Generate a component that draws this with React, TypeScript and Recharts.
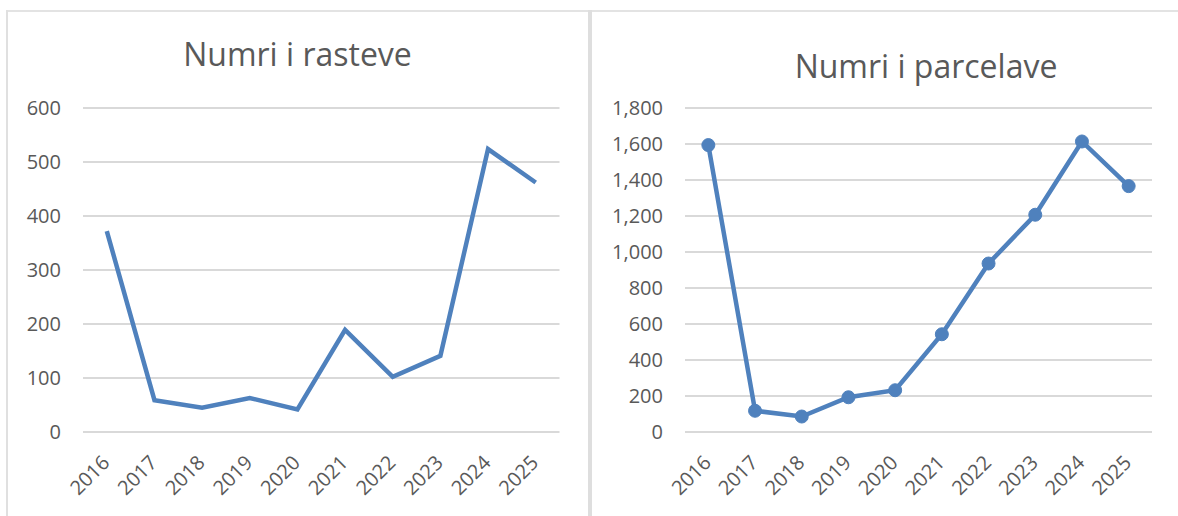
import { LineChart, Line, XAxis, YAxis, CartesianGrid } from "recharts";

const years = ["2016", "2017", "2018", "2019", "2020", "2021", "2022", "2023", "2024", "2025"];
const cases = [372, 59, 45, 63, 42, 189, 102, 141, 524, 462];
const parcels = [1594, 118, 86, 193, 232, 543, 936, 1207, 1614, 1366];

const casesTicks = [0, 100, 200, 300, 400, 500, 600];
const parcelTicks = [0, 200, 400, 600, 800, 1000, 1200, 1400, 1600, 1800];

const BLUE = "#4f81bd";
const TEXT = "#595959";
const GRID = "#d9d9d9";
const FONT = "'Open Sans', sans-serif";

const casesData = years.map((y, i) => ({ year: y, value: cases[i] }));
const parcelData = years.map((y, i) => ({ year: y, value: parcels[i] }));

function YearTick({ x, y, payload }: any) {
  return (
    <g transform={`translate(${x + 4},${y + 32}) rotate(-45)`}>
      <text textAnchor="end" fill={TEXT} fontSize={20} fontFamily={FONT}>
        {payload.value}
      </text>
    </g>
  );
}

function fmt(v: number) {
  return v.toLocaleString("en-US");
}

export default function App() {
  return (
    <div
      style={{
        position: "absolute",
        left: 0,
        top: 0,
        width: 1178,
        height: 516,
        background: "#fff",
        overflow: "hidden",
        fontFamily: FONT,
      }}
    >
      {/* frames */}
      <div style={{ position: "absolute", left: 6, top: 10, width: 1172, height: 2, background: "#e3e3e3" }} />
      <div style={{ position: "absolute", left: 6, top: 10, width: 2, height: 506, background: "#e0e0e0" }} />
      <div style={{ position: "absolute", left: 588, top: 10, width: 4, height: 506, background: "#dedede" }} />

      <div
        style={{
          position: "absolute",
          left: 0,
          width: 595,
          top: 39,
          textAlign: "center",
          fontSize: 32,
          lineHeight: "30px",
          color: TEXT,
        }}
      >
        Numri i rasteve
      </div>
      <div
        style={{
          position: "absolute",
          left: 592,
          width: 668,
          top: 51,
          textAlign: "center",
          fontSize: 32,
          lineHeight: "30px",
          color: TEXT,
        }}
      >
        Numri i parcelave
      </div>

      <div style={{ position: "absolute", left: 0, top: 0 }}>
        <LineChart
          width={588}
          height={516}
          data={casesData}
          margin={{ top: 108, right: 28.5, left: 23, bottom: 0 }}
        >
          <CartesianGrid vertical={false} stroke={GRID} strokeWidth={2} />
          <XAxis
            dataKey="year"
            axisLine={false}
            tickLine={false}
            tickSize={0}
            tickMargin={0}
            height={84}
            interval={0}
            padding={{ left: 23.8, right: 23.8 }}
            tick={<YearTick />}
          />
          <YAxis
            domain={[0, 600]}
            ticks={casesTicks}
            axisLine={false}
            tickLine={false}
            tickSize={0}
            tickMargin={22}
            width={60}
            tick={{ fill: TEXT, fontSize: 20, fontFamily: FONT }}
          />
          <Line
            type="linear"
            dataKey="value"
            stroke={BLUE}
            strokeWidth={4.5}
            dot={false}
            isAnimationActive={false}
          />
        </LineChart>
      </div>

      <div style={{ position: "absolute", left: 592, top: 0 }}>
        <LineChart
          width={586}
          height={516}
          data={parcelData}
          margin={{ top: 108, right: 26, left: 0, bottom: 0 }}
        >
          <CartesianGrid vertical={false} stroke={GRID} strokeWidth={2} />
          <XAxis
            dataKey="year"
            axisLine={false}
            tickLine={false}
            tickSize={0}
            tickMargin={0}
            height={84}
            interval={0}
            padding={{ left: 23.35, right: 23.35 }}
            tick={<YearTick />}
          />
          <YAxis
            domain={[0, 1800]}
            ticks={parcelTicks}
            tickFormatter={fmt}
            axisLine={false}
            tickLine={false}
            tickSize={0}
            tickMargin={22}
            width={93}
            tick={{ fill: TEXT, fontSize: 20, fontFamily: FONT }}
          />
          <Line
            type="linear"
            dataKey="value"
            stroke={BLUE}
            strokeWidth={4.5}
            dot={{ r: 6.5, fill: BLUE, stroke: BLUE, strokeWidth: 1 }}
            isAnimationActive={false}
          />
        </LineChart>
      </div>
    </div>
  );
}
